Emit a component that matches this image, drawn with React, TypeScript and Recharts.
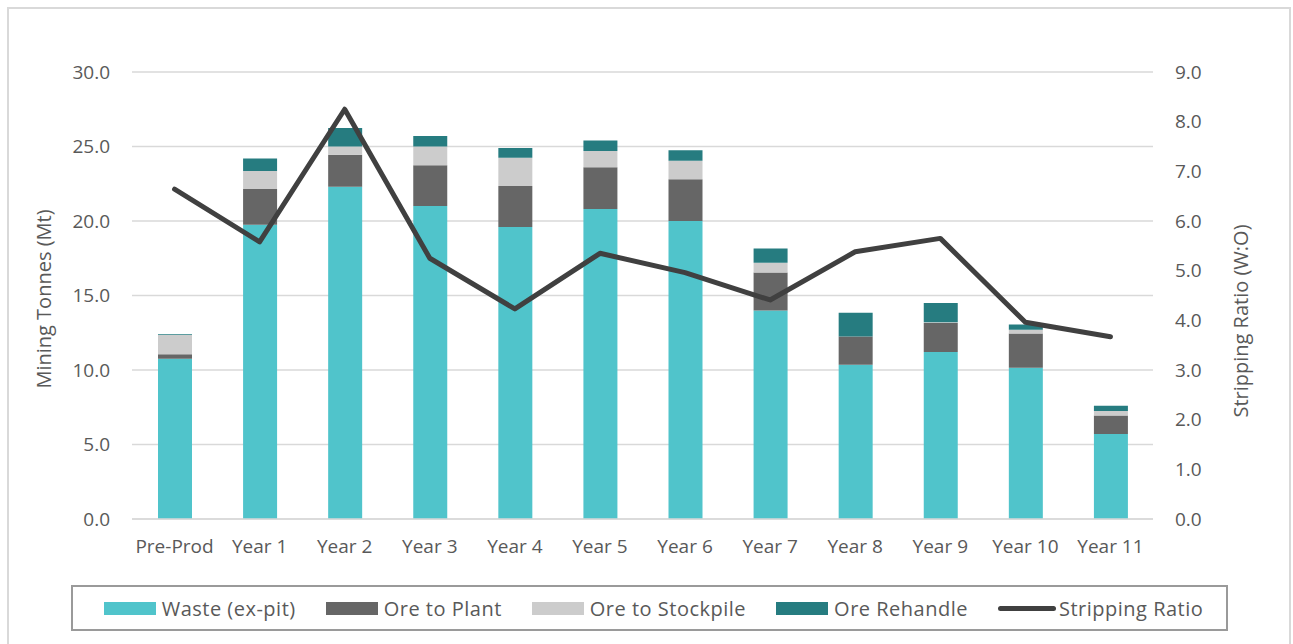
import React from 'react';
import {
  ComposedChart,
  Bar,
  Line,
  XAxis,
  YAxis,
  CartesianGrid,
} from 'recharts';

const periods = [
  'Pre-Prod', 'Year 1', 'Year 2', 'Year 3', 'Year 4', 'Year 5',
  'Year 6', 'Year 7', 'Year 8', 'Year 9', 'Year 10', 'Year 11',
];

// Mt per period
const wasteExPit = [10.75, 19.75, 22.3, 21.0, 19.6, 20.8, 20.0, 14.0, 10.35, 11.2, 10.15, 5.7];
const oreToPlant = [0.3, 2.4, 2.15, 2.75, 2.75, 2.8, 2.8, 2.55, 1.9, 1.95, 2.3, 1.25];
const oreToStockpile = [1.3, 1.2, 0.55, 1.25, 1.9, 1.1, 1.25, 0.65, 0, 0.05, 0.25, 0.3];
const oreRehandle = [0.05, 0.85, 1.25, 0.7, 0.65, 0.7, 0.7, 0.95, 1.6, 1.3, 0.35, 0.35];

// W:O
const strippingRatio = [6.64, 5.58, 8.25, 5.25, 4.23, 5.35, 4.96, 4.41, 5.38, 5.65, 3.96, 3.67];

const tonnesTicks = [0, 5, 10, 15, 20, 25, 30];
const ratioTicks = [0, 1, 2, 3, 4, 5, 6, 7, 8, 9];

const data = periods.map((name, i) => ({
  name,
  waste: wasteExPit[i],
  plant: oreToPlant[i],
  stockpile: oreToStockpile[i],
  rehandle: oreRehandle[i],
  ratio: strippingRatio[i],
}));

const FONT = '"Open Sans", "Liberation Sans", sans-serif';
const TEXT = '#595959';
const GRID = '#D9D9D9';

const series = [
  { key: 'waste', label: 'Waste (ex-pit)', color: '#50C4CB' },
  { key: 'plant', label: 'Ore to Plant', color: '#666666' },
  { key: 'stockpile', label: 'Ore to Stockpile', color: '#CCCCCC' },
  { key: 'rehandle', label: 'Ore Rehandle', color: '#267C80' },
];
const lineColor = '#404040';

const tickStyle = { fill: TEXT, fontSize: 19, fontFamily: FONT };

function axisTitle(text: string, dx: number, cy: number) {
  return (props: any) => {
    const vb = props.viewBox;
    const x = vb.x + dx;
    const y = cy;
    return (
      <text
        x={x}
        y={y}
        transform={`rotate(-90 ${x} ${y})`}
        textAnchor="middle"
        dominantBaseline="central"
        fill={TEXT}
        fontSize={20}
        fontFamily={FONT}
      >
        {text}
      </text>
    );
  };
}

function ChartLegend() {
  return (
    <div
      style={{
        position: 'absolute',
        left: 71,
        top: 585,
        width: 1157,
        height: 46,
        boxSizing: 'border-box',
        border: '2px solid #9A9A9A',
        display: 'flex',
        alignItems: 'center',
        justifyContent: 'center',
        fontFamily: FONT,
        fontSize: 20,
        letterSpacing: 0.5,
        color: TEXT,
        paddingLeft: 8,
      }}
    >
      {series.map((s) => (
        <div key={s.key} style={{ display: 'flex', alignItems: 'center', marginRight: 30 }}>
          <span style={{ width: 52, height: 13, background: s.color, marginRight: 6 }} />
          <span>{s.label}</span>
        </div>
      ))}
      <div style={{ display: 'flex', alignItems: 'center' }}>
        <span
          style={{ width: 58, height: 5, background: lineColor, borderRadius: 3, marginRight: 3 }}
        />
        <span>Stripping Ratio</span>
      </div>
    </div>
  );
}

export default function App() {
  return (
    <div
      style={{
        position: 'absolute',
        left: 0,
        top: 0,
        width: 1293,
        height: 644,
        overflow: 'hidden',
        background: '#fff',
      }}
    >
      <div
        style={{
          position: 'absolute',
          left: 7,
          top: 7,
          width: 1280,
          height: 660,
          border: `2px solid ${GRID}`,
        }}
      />
      <div style={{ position: 'absolute', left: 0, top: 0 }}>
        <ComposedChart
          width={1293}
          height={644}
          data={data}
          margin={{ top: 72, right: 60, bottom: 85, left: 52 }}
          barSize={34}
        >
          <CartesianGrid
            yAxisId="left"
            vertical={false}
            stroke={GRID}
            strokeWidth={1.5}
          />
          <XAxis
            dataKey="name"
            height={40}
            tickLine={false}
            tickSize={0}
            tickMargin={21}
            axisLine={{ stroke: GRID, strokeWidth: 1.5 }}
            tick={tickStyle}
            interval={0}
          />
          <YAxis
            yAxisId="left"
            width={80}
            domain={[0, 30]}
            ticks={tonnesTicks}
            tickFormatter={(v: number) => v.toFixed(1)}
            tickLine={false}
            axisLine={false}
            tickSize={0}
            tickMargin={22}
            tick={tickStyle}
            label={{ content: axisTitle('Mining Tonnes (Mt)', -9, 299) }}
          />
          <YAxis
            yAxisId="right"
            orientation="right"
            width={80}
            domain={[0, 9]}
            ticks={ratioTicks}
            tickFormatter={(v: number) => v.toFixed(1)}
            tickLine={false}
            axisLine={false}
            tickSize={0}
            tickMargin={22}
            tick={tickStyle}
            label={{ content: axisTitle('Stripping Ratio (W:O)', 87, 321) }}
          />
          {series.map((s) => (
            <Bar
              key={s.key}
              yAxisId="left"
              dataKey={s.key}
              name={s.label}
              stackId="tonnes"
              fill={s.color}
              isAnimationActive={false}
            />
          ))}
          <Line
            yAxisId="right"
            type="linear"
            dataKey="ratio"
            name="Stripping Ratio"
            stroke={lineColor}
            strokeWidth={5}
            strokeLinejoin="round"
            strokeLinecap="round"
            dot={false}
            activeDot={false}
            isAnimationActive={false}
          />
        </ComposedChart>
      </div>
      <ChartLegend />
    </div>
  );
}
